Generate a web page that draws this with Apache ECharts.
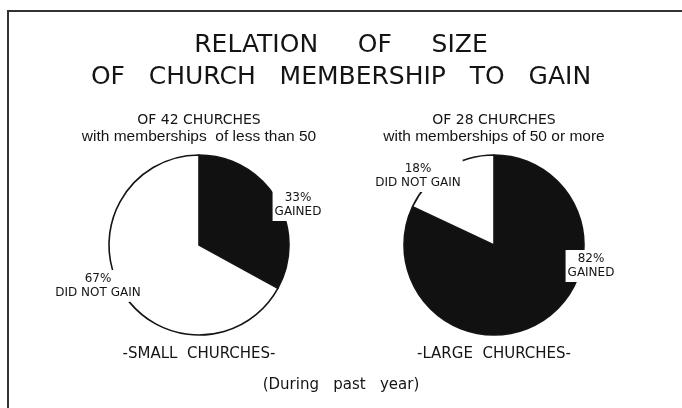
<!DOCTYPE html>
<html>
<head>
<meta charset="utf-8">
<script src="https://cdn.jsdelivr.net/npm/echarts@6/dist/echarts.min.js"></script>
<style>
html,body{margin:0;padding:0;background:#fff;}
#chart{width:682px;height:408px;}
</style>
</head>
<body>
<div id="chart"></div>
<script>
var categories = ['GAINED', 'DID NOT GAIN'];
var smallValues = [33, 67];
var largeValues = [82, 18];
var titleLines = ['RELATION     OF     SIZE', 'OF   CHURCH   MEMBERSHIP   TO   GAIN'];
var smallHead = ['OF 42 CHURCHES', 'with memberships  of less than 50'];
var largeHead = ['OF 28 CHURCHES', 'with memberships of 50 or more'];
var smallFoot = '-SMALL  CHURCHES-';
var largeFoot = '-LARGE  CHURCHES-';
var note = '(During   past   year)';

var sliceColors = ['#111111', '#ffffff'];
var INK = '#141414';
var SANS = '"DejaVu Sans", sans-serif';
var HAND = '"Liberation Sans", sans-serif';

function makeData(vals) {
  return vals.map(function (v, i) {
    return { name: categories[i], value: v, itemStyle: { color: sliceColors[i] } };
  });
}

// label anchor positions (text only)
var labelPos = {
  small: [[298, 205], [98, 286]],
  large: [[591, 266], [418, 176]]
};

function pieSeries(vals, center, key) {
  return {
    type: 'pie',
    center: center,
    radius: 90,
    startAngle: 90,
    clockwise: true,
    animation: false,
    silent: true,
    data: makeData(vals),
    itemStyle: { borderColor: INK, borderWidth: 1.6 },
    label: {
      show: true,
      position: 'outside',
      formatter: '{c}%\n{b}',
      fontFamily: SANS,
      fontSize: 12,
      lineHeight: 14,
      color: INK,
      backgroundColor: '#ffffff',
      padding: [2, 2, 2, 2],
      align: 'center',
      overflow: 'none'
    },
    labelLine: { show: false },
    labelLayout: function (p) {
      var pos = labelPos[key][p.dataIndex];
      return { x: pos[0], y: pos[1], align: 'center', verticalAlign: 'middle', hideOverlap: false };
    }
  };
}

function txt(s, x, y, size, family, weight) {
  return {
    type: 'text', x: x, y: y, silent: true,
    style: {
      text: s, fill: INK, font: (weight || 'normal') + ' ' + size + 'px ' + family,
      textAlign: 'center', textVerticalAlign: 'middle'
    }
  };
}

var chart = echarts.init(document.getElementById('chart'), null, { renderer: 'canvas' });
chart.setOption({
  backgroundColor: '#ffffff',
  animation: false,
  series: [
    pieSeries(smallValues, [199, 245], 'small'),
    pieSeries(largeValues, [494, 245], 'large')
  ],
  graphic: [
    { type: 'line', silent: true, shape: { x1: 8, y1: 11, x2: 682, y2: 11 }, style: { stroke: '#333', lineWidth: 2 } },
    { type: 'line', silent: true, shape: { x1: 8, y1: 10, x2: 8, y2: 408 }, style: { stroke: '#333', lineWidth: 2 } },
    txt(titleLines[0], 341, 45, 25, SANS),
    txt(titleLines[1], 341, 77, 25, SANS),
    txt(smallHead[0], 199, 120, 14, SANS),
    txt(smallHead[1], 199, 137, 15.5, HAND),
    txt(largeHead[0], 494, 120, 14, SANS),
    txt(largeHead[1], 494, 137, 15.5, HAND),
    txt(smallFoot, 199, 354, 15, SANS),
    txt(largeFoot, 494, 354, 15, SANS),
    txt(note, 341, 385, 15, SANS)
  ]
});
</script>
</body>
</html>
